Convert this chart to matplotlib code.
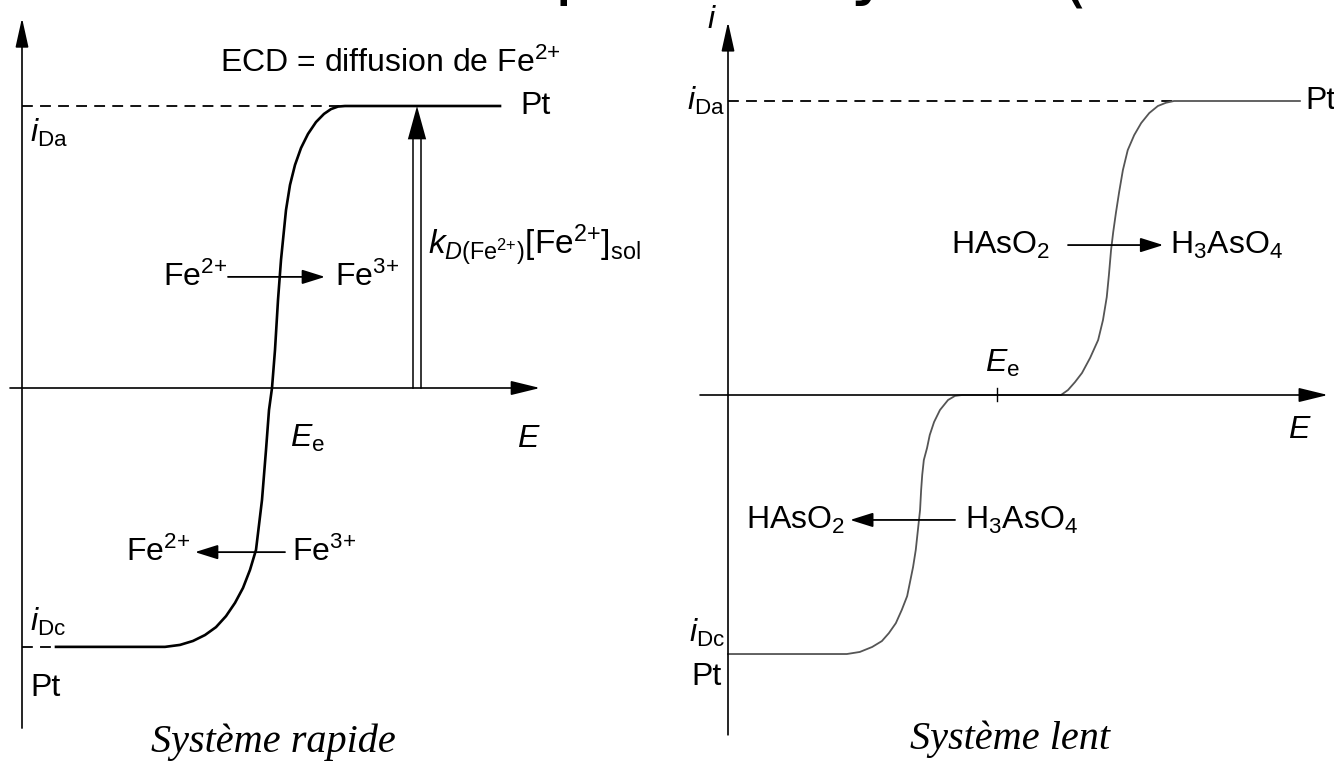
import matplotlib
matplotlib.use("Agg")
import matplotlib.pyplot as plt

# courbes i = f(E) : E en unites arbitraires (E_e = 0.5), i normalise (i_Da = 1)
E_RAPIDE = [0.068, 0.286, 0.316, 0.342, 0.366, 0.388, 0.408, 0.426, 0.442, 0.456,
            0.468, 0.480, 0.488, 0.494, 0.500, 0.506, 0.512, 0.518, 0.522, 0.528,
            0.536, 0.546, 0.558, 0.572, 0.588, 0.604, 0.618, 0.632, 0.646, 0.956]
I_RAPIDE = [-0.918, -0.918, -0.911, -0.897, -0.876, -0.848, -0.809, -0.762, -0.709, -0.645,
            -0.574, -0.397, -0.220, -0.078, 0.0, 0.135, 0.312, 0.454, 0.525, 0.631,
            0.720, 0.791, 0.851, 0.901, 0.943, 0.972, 0.989, 0.998, 1.0, 1.0]

E_LENT = [0.0, 0.221, 0.245, 0.268, 0.286, 0.299, 0.312, 0.323, 0.333, 0.338,
          0.344, 0.349, 0.353, 0.357, 0.359, 0.361, 0.364, 0.370, 0.375, 0.383,
          0.394, 0.409, 0.422, 0.435, 0.619, 0.632, 0.645, 0.658, 0.673, 0.688,
          0.697, 0.704, 0.708, 0.712, 0.716, 0.721, 0.727, 0.734, 0.743, 0.755,
          0.768, 0.783, 0.799, 0.814, 0.829, 1.063]
I_LENT = [-0.881, -0.881, -0.874, -0.857, -0.837, -0.810, -0.776, -0.731, -0.684, -0.639,
          -0.585, -0.527, -0.459, -0.391, -0.323, -0.272, -0.221, -0.180, -0.136, -0.092,
          -0.051, -0.017, -0.003, 0.0, 0.0, 0.017, 0.044, 0.075, 0.126, 0.187,
          0.255, 0.333, 0.408, 0.493, 0.554, 0.619, 0.690, 0.765, 0.833, 0.884,
          0.925, 0.959, 0.983, 0.994, 1.0, 1.0]

I_DA = 1.0
E_EQ = 0.5
E_KD = 0.79  # fleche k_D [Fe2+]

plt.rcParams['font.family'] = ['Liberation Sans', 'DejaVu Sans']
plt.rcParams['mathtext.fontset'] = 'custom'
plt.rcParams['mathtext.rm'] = 'Liberation Sans'
plt.rcParams['mathtext.it'] = 'Liberation Sans:italic'
plt.rcParams['mathtext.bf'] = 'Liberation Sans:bold'

W, H = 1334, 761
fig = plt.figure(figsize=(W / 100, H / 100), dpi=100)


def panel(px_left, px_right, x0, y0, sx, sy):
    # axes sans cadre, origine (x0, y0) en pixels, sx/sy pixels par unite
    ax = fig.add_axes([px_left / W, 0, (px_right - px_left) / W, 1])
    ax.set_xlim((px_left - x0) / sx, (px_right - x0) / sx)
    ax.set_ylim((y0 - H) / sy, y0 / sy)
    ax.axis('off')
    return ax


def arrow(ax, start, end, lw=1.3, head="-|>,head_length=0.7,head_width=0.22", ms=20):
    ax.annotate("", xy=end, xytext=start,
                arrowprops=dict(arrowstyle=head, lw=lw, color='black',
                                shrinkA=0, shrinkB=0, mutation_scale=ms))


TXT = 23
dash = (0, (6, 4))
FE2 = r"Fe$^{\text{2+}}$"
FE3 = r"Fe$^{\text{3+}}$"

# ---- systeme rapide ----
ax = panel(0, 667, 22, 388, 500, 282)
arrow(ax, (0, -1.206), (0, 1.312), lw=1.2, head="-|>,head_length=0.9,head_width=0.2")
arrow(ax, (-0.024, 0), (1.036, 0), lw=1.2, head="-|>,head_length=0.9,head_width=0.22")

e_top = E_RAPIDE[I_RAPIDE.index(I_DA)]
ax.plot([0, e_top], [I_DA, I_DA], color='black', lw=1.3, ls=dash)
ax.plot([0, E_RAPIDE[0]], [I_RAPIDE[0], I_RAPIDE[0]], color='black', lw=1.3, ls=dash)
ax.plot(E_RAPIDE, I_RAPIDE, color='black', lw=1.9, solid_joinstyle='round')

# double fleche k_D
for dx in (-0.008, 0.008):
    ax.plot([E_KD + dx, E_KD + dx], [0, I_DA - 0.07], color='black', lw=1.1)
arrow(ax, (E_KD, 0.5), (E_KD, I_DA), lw=0, head="-|>,head_length=1.2,head_width=0.33", ms=20)

ax.text(0.736, 1.152, r"ECD = diffusion de Fe$^{\text{2+}}$", fontsize=TXT,
        ha='center', va='center')
ax.text(0.996, I_DA, "Pt", fontsize=TXT, ha='left', va='center')
ax.text(0.016, 0.905, r"$i_{\mathrm{Da}}$", fontsize=TXT, ha='left', va='center')
ax.text(0.016, -0.83, r"$i_{\mathrm{Dc}}$", fontsize=TXT, ha='left', va='center')
ax.text(0.016, -1.064, "Pt", fontsize=TXT, ha='left', va='center')
ax.text(0.536, -0.18, r"$E_{\mathrm{e}}$", fontsize=TXT, ha='left', va='center')
ax.text(0.99, -0.18, r"$E$", fontsize=TXT, ha='left', va='center')
ax.text(0.812, 0.507, r"$k_{D(\mathrm{Fe}^{\text{2+}})}[\mathrm{Fe}^{\text{2+}}]_{\mathrm{sol}}$",
        fontsize=24, ha='left', va='center')

ax.text(0.41, 0.394, FE2, fontsize=TXT, ha='right', va='center')
arrow(ax, (0.412, 0.394), (0.606, 0.394))
ax.text(0.626, 0.394, FE3, fontsize=TXT, ha='left', va='center')

ax.text(0.336, -0.582, FE2, fontsize=TXT, ha='right', va='center')
arrow(ax, (0.526, -0.582), (0.346, -0.582))
ax.text(0.54, -0.582, FE3, fontsize=TXT, ha='left', va='center')

ax.text(0.502, -1.255, "Système rapide", fontsize=29, ha='center', va='center',
        family='Liberation Serif', style='italic')

# ---- systeme lent ----
ax = panel(667, 1334, 728, 395, 538, 294)
arrow(ax, (0, -1.156), (0, 1.269), lw=1.2, head="-|>,head_length=0.9,head_width=0.2")
arrow(ax, (-0.052, 0), (1.115, 0), lw=1.2, head="-|>,head_length=0.9,head_width=0.22")

e_top = E_LENT[I_LENT.index(I_DA)]
ax.plot([0, e_top], [I_DA, I_DA], color='black', lw=1.3, ls=dash)
ax.plot(E_LENT, I_LENT, color='#555555', lw=1.3, solid_joinstyle='round')
ax.plot([E_EQ, E_EQ], [-0.02, 0.025], color='black', lw=1.0)

ax.text(-0.03, 1.276, r"$i$", fontsize=TXT, ha='center', va='center')
ax.text(-0.006, I_DA, r"$i_{\mathrm{Da}}$", fontsize=TXT, ha='right', va='center')
ax.text(1.073, I_DA, "Pt", fontsize=TXT, ha='left', va='center')
ax.text(-0.006, -0.81, r"$i_{\mathrm{Dc}}$", fontsize=TXT, ha='right', va='center')
ax.text(-0.012, -0.96, "Pt", fontsize=TXT, ha='right', va='center')
ax.text(E_EQ + 0.01, 0.109, r"$E_{\mathrm{e}}$", fontsize=TXT, ha='center', va='center')
ax.text(1.063, -0.12, r"$E$", fontsize=TXT, ha='center', va='center')

ax.text(0.599, 0.51, r"HAsO$_2$", fontsize=TXT, ha='right', va='center')
arrow(ax, (0.632, 0.51), (0.809, 0.51))
ax.text(0.822, 0.51, r"H$_3$AsO$_4$", fontsize=TXT, ha='left', va='center')

ax.text(0.217, -0.425, r"HAsO$_2$", fontsize=TXT, ha='right', va='center')
arrow(ax, (0.422, -0.425), (0.227, -0.425))
ax.text(0.441, -0.425, r"H$_3$AsO$_4$", fontsize=TXT, ha='left', va='center')

ax.text(0.524, -1.17, "Système lent", fontsize=29, ha='center', va='center',
        family='Liberation Serif', style='italic')

# bas du titre coupe en haut de page
for ch, xpx, ypx in (("p", 553, -9), ("y", 850, -9), ("(", 1060, -2)):
    fig.text(xpx / W, 1 - ypx / H, ch, fontsize=52, family='DejaVu Sans',
             ha='left', va='baseline')

fig.savefig("out.png", dpi=100)
